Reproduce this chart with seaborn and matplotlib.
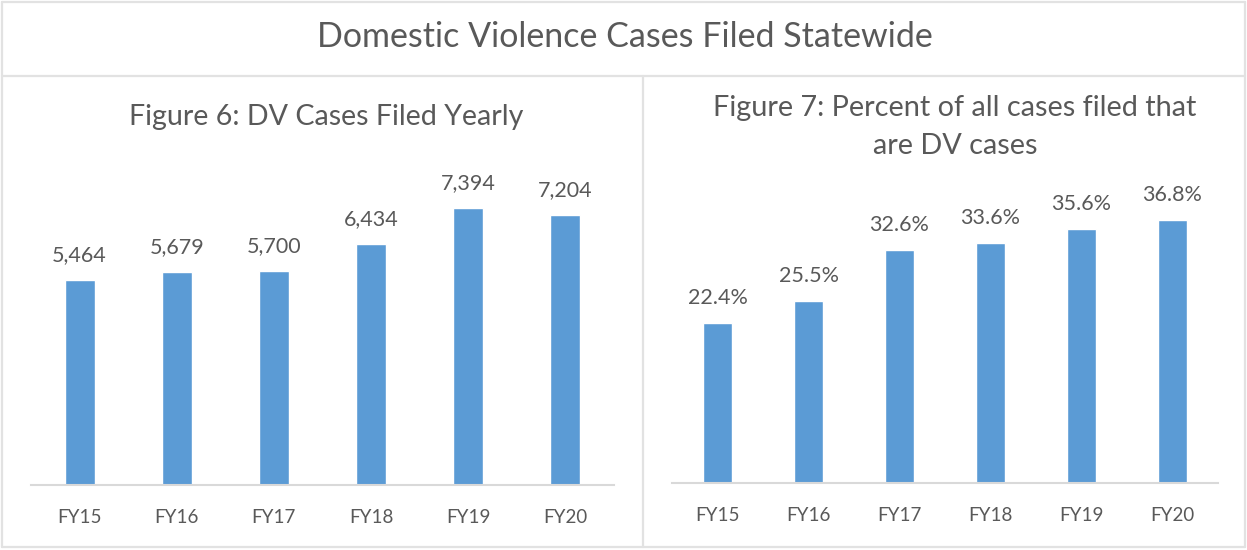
import matplotlib
matplotlib.use('Agg')
import matplotlib.pyplot as plt
from matplotlib.lines import Line2D
import seaborn as sns

# ---- data ----
years = ['FY15', 'FY16', 'FY17', 'FY18', 'FY19', 'FY20']
dv_cases = [5464, 5679, 5700, 6434, 7394, 7204]
dv_pct = [22.4, 25.5, 32.6, 33.6, 35.6, 36.8]

main_title = 'Domestic Violence Cases Filed Statewide'
title_left = 'Figure 6: DV Cases Filed Yearly'
title_right = 'Figure 7: Percent of all cases filed that\nare DV cases'

BLUE = '#5B9BD5'
TXT = '#595959'
GRID = '#D9D9D9'
BORDER = '#E2E2E2'

sns.set_style('white')
plt.rcParams['font.family'] = ['Lato', 'DejaVu Sans']

W, H = 1247, 550
fig = plt.figure(figsize=(W / 100, H / 100), dpi=100)
fig.patch.set_facecolor('white')


def px(x, y):
    return x / W, 1 - y / H


def line(x0, y0, x1, y1, c=BORDER, lw=1.6):
    a, b = px(x0, y0)
    c0, d = px(x1, y1)
    fig.add_artist(Line2D([a, c0], [b, d], transform=fig.transFigure,
                          color=c, lw=lw))


# panel borders
line(2, 2, 1245, 2)
line(2, 2, 2, 547)
line(1245, 2, 1245, 547)
line(2, 547, 1245, 547)
line(2, 76, 1245, 76)
line(643, 76, 643, 547)


def style(ax, ymax):
    ax.set_ylim(0, ymax)
    ax.set_xlabel('')
    ax.set_ylabel('')
    ax.set_yticks([])
    for s in ['top', 'right', 'left']:
        ax.spines[s].set_visible(False)
    ax.spines['bottom'].set_color(GRID)
    ax.spines['bottom'].set_linewidth(1.5)
    ax.tick_params(axis='x', length=0, pad=17, labelsize=13.5, labelcolor=TXT)
    ax.patch.set_alpha(0)


# --- Figure 6 ---
ax1 = fig.add_axes([31 / W, 1 - 485 / H, 583 / W, 300 / H])
sns.barplot(x=years, y=dv_cases, color=BLUE, width=0.31, ax=ax1,
            saturation=1)
style(ax1, 8000)
for i, v in enumerate(dv_cases):
    ax1.annotate(f'{v:,}', (i, v), xytext=(0, 18), textcoords='offset points',
                 ha='center', va='center', fontsize=15.5, color=TXT,
                 annotation_clip=False)

# --- Figure 7 ---
ax2 = fig.add_axes([672 / W, 1 - 483 / H, 546 / W, 285.6 / H])
sns.barplot(x=years, y=dv_pct, color=BLUE, width=0.32, ax=ax2,
            saturation=1)
style(ax2, 40)
for i, v in enumerate(dv_pct):
    ax2.annotate(f'{v:.1f}%', (i, v), xytext=(0, 18), textcoords='offset points',
                 ha='center', va='center', fontsize=15.5, color=TXT,
                 annotation_clip=False)

fig.text(*px(625, 37), main_title, ha='center', va='center',
         fontsize=24.5, color=TXT)
fig.text(*px(326, 117), title_left, ha='center', va='center',
         fontsize=20.6, color=TXT)
fig.text(*px(955, 127), title_right, ha='center', va='center',
         fontsize=20.8, color=TXT, linespacing=1.6)

plt.savefig('out.png', dpi=100, facecolor='white')
